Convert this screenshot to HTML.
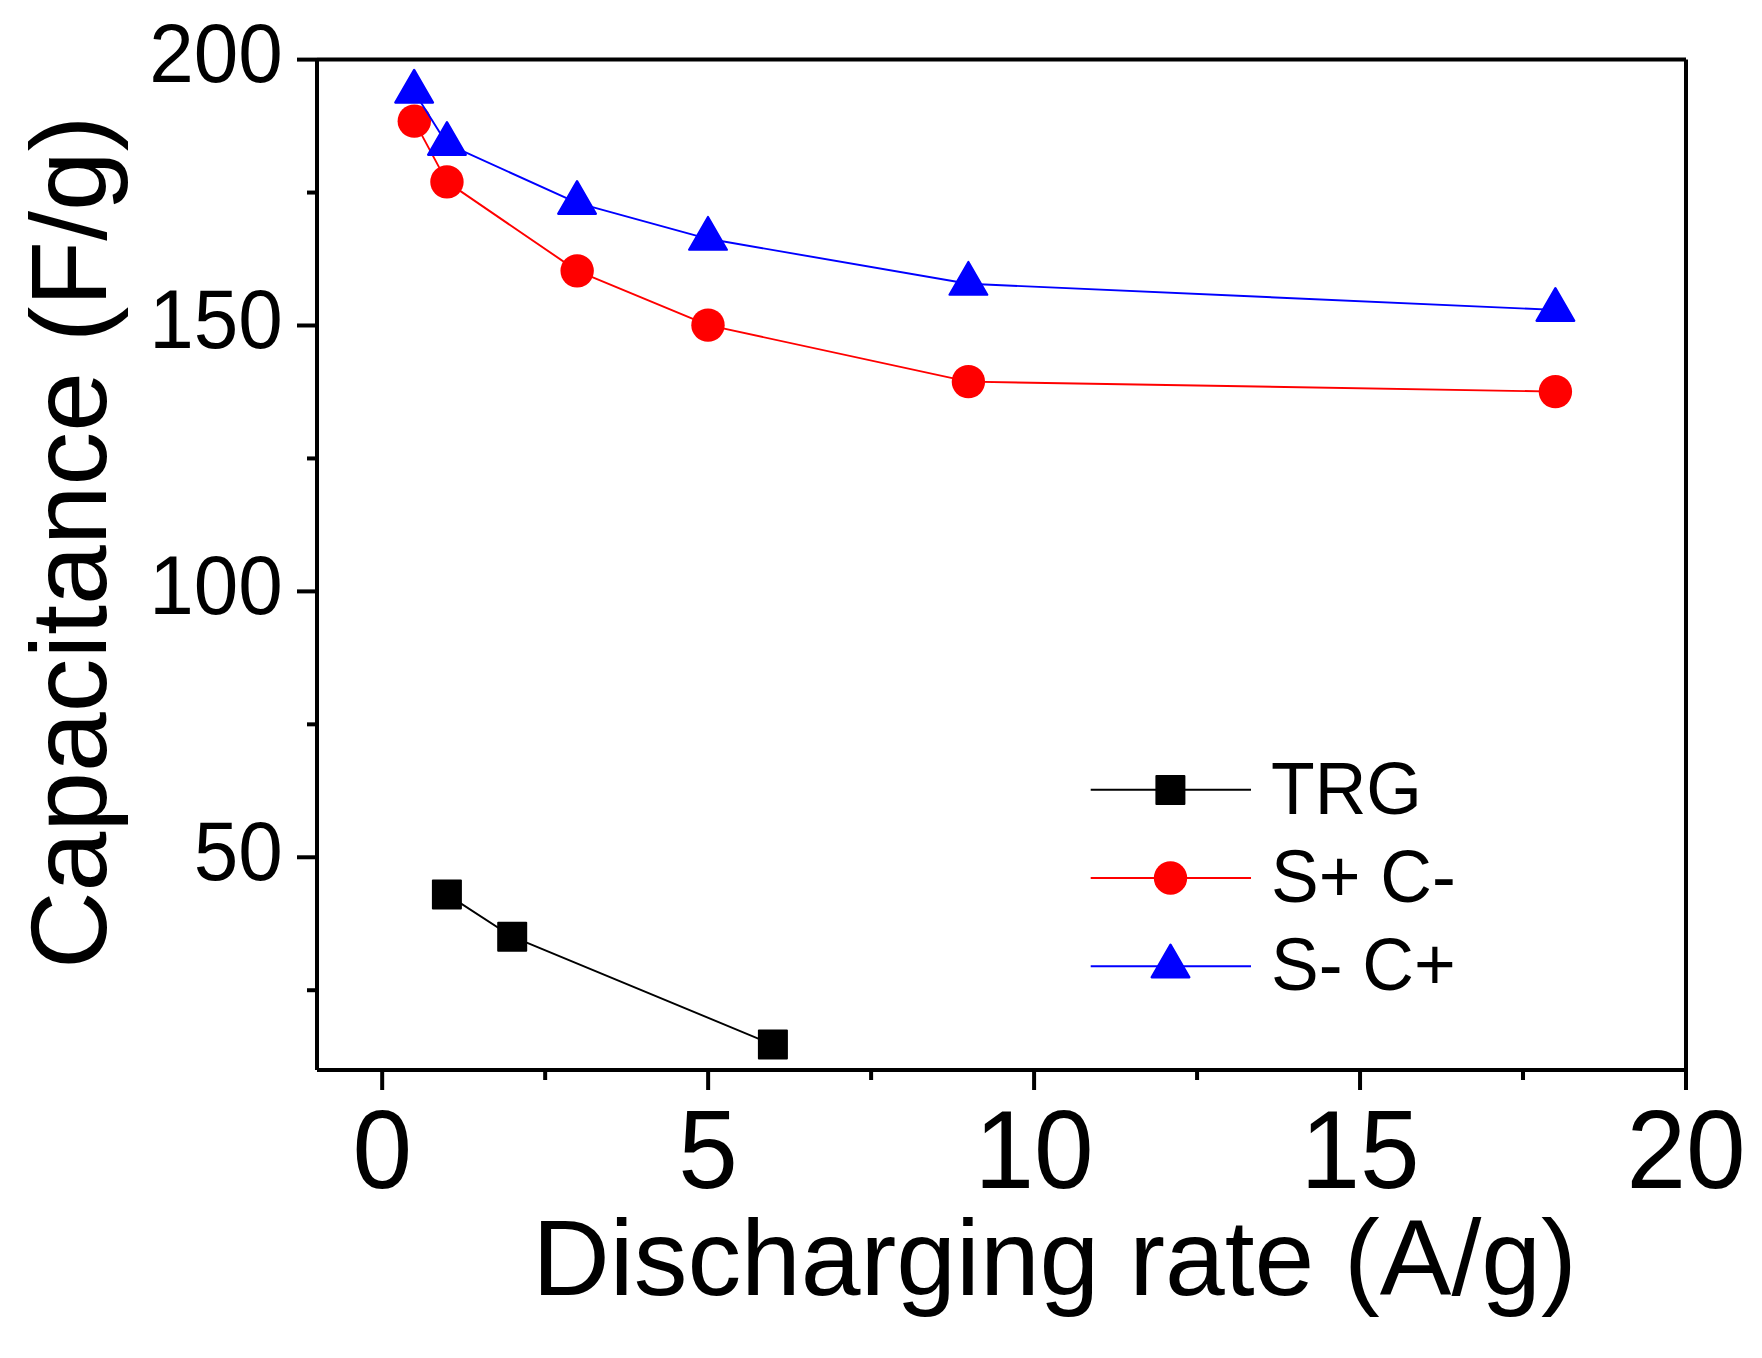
<!DOCTYPE html>
<html lang="en">
<head>
<meta charset="utf-8">
<title>Capacitance vs discharging rate</title>
<style>
html,body{margin:0;padding:0;background:#fff;}
body{width:1762px;height:1358px;overflow:hidden;}
svg{display:block;}
text{font-family:"Liberation Sans",sans-serif;fill:#000;}
.ytick{font-size:80px;text-anchor:end;}
.xtick{font-size:107.2px;text-anchor:middle;}
.title{font-size:107.4px;}
.leg{font-size:71.5px;}
.ax{stroke:#000;stroke-width:4;fill:none;stroke-linecap:butt;}
.ln{fill:none;stroke-width:1.9;stroke-linejoin:round;}
</style>
</head>
<body>
<svg width="1762" height="1358" viewBox="0 0 1762 1358">
<rect x="0" y="0" width="1762" height="1358" fill="#fff"/>
<g class="ax">
<line x1="317.0" y1="59.6" x2="317.0" y2="1070.0"/>
<line x1="1686.0" y1="59.6" x2="1686.0" y2="1070.0"/>
<line x1="317.0" y1="59.6" x2="1686.0" y2="59.6"/>
<line x1="317.0" y1="1070.0" x2="1686.0" y2="1070.0"/>
<line x1="297.0" y1="59.60" x2="317.0" y2="59.60"/>
<line x1="297.0" y1="325.49" x2="317.0" y2="325.49"/>
<line x1="297.0" y1="591.39" x2="317.0" y2="591.39"/>
<line x1="297.0" y1="857.28" x2="317.0" y2="857.28"/>
<line x1="307.0" y1="192.55" x2="317.0" y2="192.55"/>
<line x1="307.0" y1="458.44" x2="317.0" y2="458.44"/>
<line x1="307.0" y1="724.34" x2="317.0" y2="724.34"/>
<line x1="307.0" y1="990.23" x2="317.0" y2="990.23"/>
<line x1="382.19" y1="1070.0" x2="382.19" y2="1090.0"/>
<line x1="708.14" y1="1070.0" x2="708.14" y2="1090.0"/>
<line x1="1034.10" y1="1070.0" x2="1034.10" y2="1090.0"/>
<line x1="1360.05" y1="1070.0" x2="1360.05" y2="1090.0"/>
<line x1="1686.00" y1="1070.0" x2="1686.00" y2="1090.0"/>
<line x1="545.17" y1="1070.0" x2="545.17" y2="1080.0"/>
<line x1="871.12" y1="1070.0" x2="871.12" y2="1080.0"/>
<line x1="1197.07" y1="1070.0" x2="1197.07" y2="1080.0"/>
<line x1="1523.02" y1="1070.0" x2="1523.02" y2="1080.0"/>
</g>
<text class="ytick" transform="translate(282.8 82.00) scale(1 1.04)">200</text>
<text class="ytick" transform="translate(282.8 347.89) scale(1 1.04)">150</text>
<text class="ytick" transform="translate(282.8 613.79) scale(1 1.04)">100</text>
<text class="ytick" transform="translate(282.8 879.68) scale(1 1.04)">50</text>
<text class="xtick" transform="translate(382.19 1188.2) scale(1 1.045)">0</text>
<text class="xtick" transform="translate(708.14 1188.2) scale(1 1.045)">5</text>
<text class="xtick" transform="translate(1034.10 1188.2) scale(1 1.045)">10</text>
<text class="xtick" transform="translate(1360.05 1188.2) scale(1 1.045)">15</text>
<text class="xtick" transform="translate(1686.00 1188.2) scale(1 1.045)">20</text>
<text class="title" x="532.3" y="1295">Discharging rate (A/g)</text>
<text class="title" transform="translate(106 969) rotate(-90)">Capacitance (F/g)</text>
<g class="ln" stroke="#000"><polyline points="446.90,894.40 512.20,936.70 772.90,1044.60"/></g>
<g fill="#000"><rect x="431.90" y="879.40" width="30.0" height="30.0" rx="1" ry="1"/><rect x="497.20" y="921.70" width="30.0" height="30.0" rx="1" ry="1"/><rect x="757.90" y="1029.60" width="30.0" height="30.0" rx="1" ry="1"/></g>
<g class="ln" stroke="#f00"><polyline points="414.30,121.15 446.95,181.90 577.15,270.85 708.00,325.15 968.40,381.65 1555.40,391.60"/></g>
<g fill="#f00"><circle cx="414.30" cy="121.15" r="16.7"/><circle cx="446.95" cy="181.90" r="16.7"/><circle cx="577.15" cy="270.85" r="16.7"/><circle cx="708.00" cy="325.15" r="16.7"/><circle cx="968.40" cy="381.65" r="16.7"/><circle cx="1555.40" cy="391.60" r="16.7"/></g>
<g class="ln" stroke="#00f"><polyline points="414.15,91.70 446.97,143.90 577.05,202.95 708.00,238.80 968.40,283.80 1555.40,309.90"/></g>
<g fill="#00f" stroke="#00f" stroke-width="2.2" stroke-linejoin="round"><polygon points="414.15,69.88 433.05,102.61 395.25,102.61"/><polygon points="446.97,122.08 465.87,154.81 428.07,154.81"/><polygon points="577.05,181.13 595.95,213.86 558.15,213.86"/><polygon points="708.00,216.98 726.90,249.71 689.10,249.71"/><polygon points="968.40,261.98 987.30,294.71 949.50,294.71"/><polygon points="1555.40,288.08 1574.30,320.81 1536.50,320.81"/></g>
<g class="ln">
<line x1="1090.7" y1="789.75" x2="1251" y2="789.75" stroke="#000"/>
<line x1="1090.7" y1="877.95" x2="1251" y2="877.95" stroke="#f00"/>
<line x1="1090.7" y1="966.3" x2="1251" y2="966.3" stroke="#00f"/>
</g>
<g fill="#000"><rect x="1155.40" y="774.95" width="30.0" height="30.0" rx="1" ry="1"/></g>
<g fill="#f00"><circle cx="1170.50" cy="878.05" r="16.7"/></g>
<g fill="#00f" stroke="#00f" stroke-width="2.2" stroke-linejoin="round"><polygon points="1170.50,944.58 1189.40,977.31 1151.60,977.31"/></g>
<text class="leg" transform="translate(1271 814.3) scale(1 1.04)">TRG</text>
<text class="leg" transform="translate(1271 902) scale(1 1.04)">S+ C-</text>
<text class="leg" transform="translate(1271 990) scale(1 1.04)">S- C+</text>
</svg>
</body>
</html>
